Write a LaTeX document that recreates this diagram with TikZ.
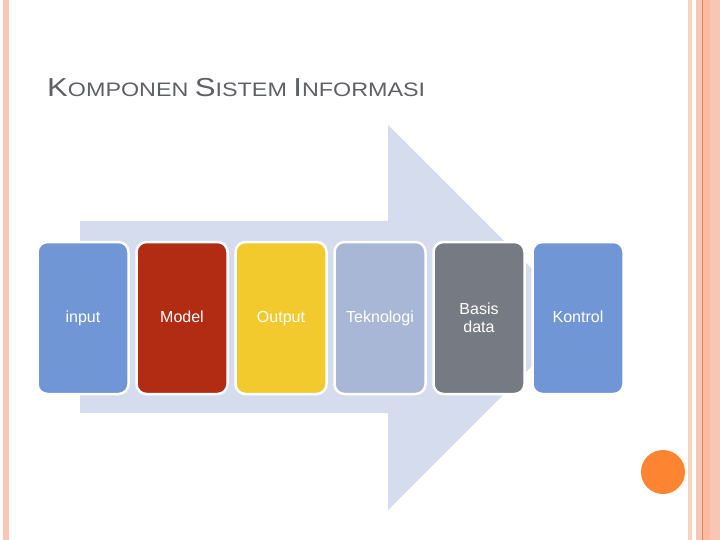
\documentclass[tikz,border=0pt]{standalone}
\usepackage{fontspec}
\usepackage{graphicx}
\usepackage{tikz}
\usepackage{xcolor}
\usetikzlibrary{positioning}
\setmainfont{Liberation Sans}

\definecolor{boxblue}{RGB}{112,150,214}
\definecolor{boxred}{RGB}{178,44,20}
\definecolor{boxyellow}{RGB}{242,202,45}
\definecolor{boxlav}{RGB}{169,183,214}
\definecolor{boxgray}{RGB}{118,122,130}
\definecolor{arrowblue}{RGB}{213,220,238}
\definecolor{titlegray}{RGB}{95,96,102}
\definecolor{stripe}{RGB}{247,198,180}
\definecolor{stripelight}{RGB}{249,210,194}
\definecolor{stripedeep}{RGB}{252,186,158}
\definecolor{stripeline}{RGB}{218,135,95}
\definecolor{dotorange}{RGB}{253,133,49}

\newcommand{\bigletter}[1]{{\fontsize{26}{26}\selectfont #1}}

\begin{document}
\begin{tikzpicture}[
    x=1pt, y=-1pt,
    comp/.style={rectangle, draw=white, line width=2.5pt, rounded corners=10pt, outer sep=0pt,
        minimum width=91pt, minimum height=152pt, text=white, align=center,
        font=\fontsize{16}{17.5}\selectfont},
    oneline/.style={text height=11.5pt, text depth=3.5pt},
    band/.style={fill=#1, draw=none}
]
\useasboundingbox (0,0) rectangle (720,540);

% Page borders
\fill[band=stripe] (3,0) rectangle (9,540);
\fill[band=stripelight] (688,0) rectangle (692,540);
\fill[band=stripe] (696,0) rectangle (702,540);
\fill[band=stripedeep] (703,0) rectangle (710,540);
\fill[band=stripe] (710,0) rectangle (720,540);
\draw[stripeline, line width=1pt] (702.5,0) -- (702.5,540);

% Title
\node[anchor=base west, inner sep=0pt, text=titlegray, font=\fontsize{19.5}{20}\selectfont] (title) at (47,97)
    {\resizebox{378pt}{\height}{\bigletter{K}OMPONEN \bigletter{S}ISTEM \bigletter{I}NFORMASI}};

% Big arrow
\fill[arrowblue] (80,221) -- (388,221) -- (388,125) -- (580.5,317.5) -- (388,510) -- (388,413) -- (80,413) -- cycle;

% Components
\node[comp, oneline, fill=boxblue] (input) at (83,318) {input};
\node[comp, oneline, fill=boxred, right=8pt of input] (model) {Model};
\node[comp, oneline, fill=boxyellow, right=8pt of model] (output) {Output};
\node[comp, oneline, fill=boxlav, right=8pt of output] (tech) {Teknologi};
\node[comp, fill=boxgray, right=8pt of tech] (db) {Basis\\data};
\node[comp, oneline, fill=boxblue, right=8pt of db] (control) {Kontrol};

% Corner dot
\fill[dotorange] (663,472) circle (22);

\end{tikzpicture}
\end{document}
